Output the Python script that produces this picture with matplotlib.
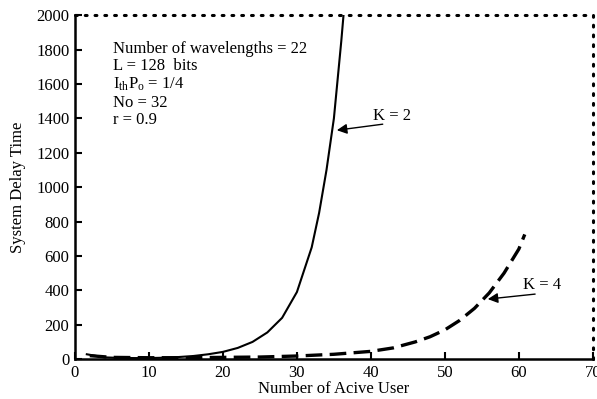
import matplotlib
matplotlib.use('Agg')
import matplotlib.pyplot as plt

plt.rcParams['font.family'] = ['Liberation Serif', 'DejaVu Serif']
plt.rcParams['mathtext.fontset'] = 'custom'
plt.rcParams['mathtext.rm'] = 'Liberation Serif'
plt.rcParams['mathtext.it'] = 'Liberation Serif:italic'

# K = 2 curve
users_k2 = [1.6, 4, 6, 8, 10, 12, 14, 16, 18, 20, 22, 24, 26, 28, 30, 32, 33, 34, 35, 36, 36.3]
delay_k2 = [28, 10, 7, 6, 6, 8, 12, 18, 28, 42, 65, 100, 155, 240, 390, 650, 850, 1100, 1400, 1850, 2000]

# K = 4 curve
users_k4 = [2, 5, 10, 15, 20, 25, 30, 35, 40, 43, 46, 48, 50, 52, 54, 56, 58, 60, 60.8]
delay_k4 = [20, 10, 8, 8, 10, 12, 18, 28, 45, 65, 100, 130, 170, 225, 295, 385, 500, 640, 725]

params = ['Number of wavelengths = 22', 'L = 128  bits', r'I$_{\rm th}$P$_{\rm o}$ = 1/4',
          'No = 32', 'r = 0.9']

fs = 12

fig = plt.figure(figsize=(5.97, 3.99), dpi=100)
ax = fig.add_axes([0.1256, 0.100, 0.8674, 0.862])

ax.plot(users_k2, delay_k2, color='black', lw=1.5)
ax.plot(users_k4, delay_k4, color='black', lw=2.4, dashes=(5, 2.2))

ax.set_xlim(0, 70)
ax.set_ylim(0, 2000)
ax.set_xticks(range(0, 71, 10))
ax.set_yticks(range(0, 2001, 200))
ax.tick_params(direction='in', length=5, width=1.5, labelsize=fs, pad=4)

for s in ['left', 'bottom']:
    ax.spines[s].set_linewidth(1.8)
for s in ['top', 'right']:
    ax.spines[s].set_linewidth(2.2)
    ax.spines[s].set_linestyle((0, (0.6, 2.6)))
    ax.spines[s].set_capstyle('round')

ax.set_xlabel('Number of Acive User', fontsize=fs, labelpad=0)
ax.set_ylabel('System Delay Time', fontsize=fs, labelpad=7.5)

ax.text(5.1, 1850, '\n'.join(params), fontsize=fs, va='top', ha='left', linespacing=1.12)

arrow = dict(arrowstyle='-|>', color='black', lw=1, mutation_scale=15, shrinkA=0, shrinkB=0)
ax.annotate('', xy=(35.4, 1331), xytext=(41.6, 1366), arrowprops=arrow)
ax.text(40.3, 1415, 'K = 2', fontsize=fs, ha='left', va='center')
ax.annotate('', xy=(55.8, 349), xytext=(62.2, 378), arrowprops=arrow)
ax.text(60.5, 430, 'K = 4', fontsize=fs, ha='left', va='center')

fig.savefig('out.png', dpi=100)
